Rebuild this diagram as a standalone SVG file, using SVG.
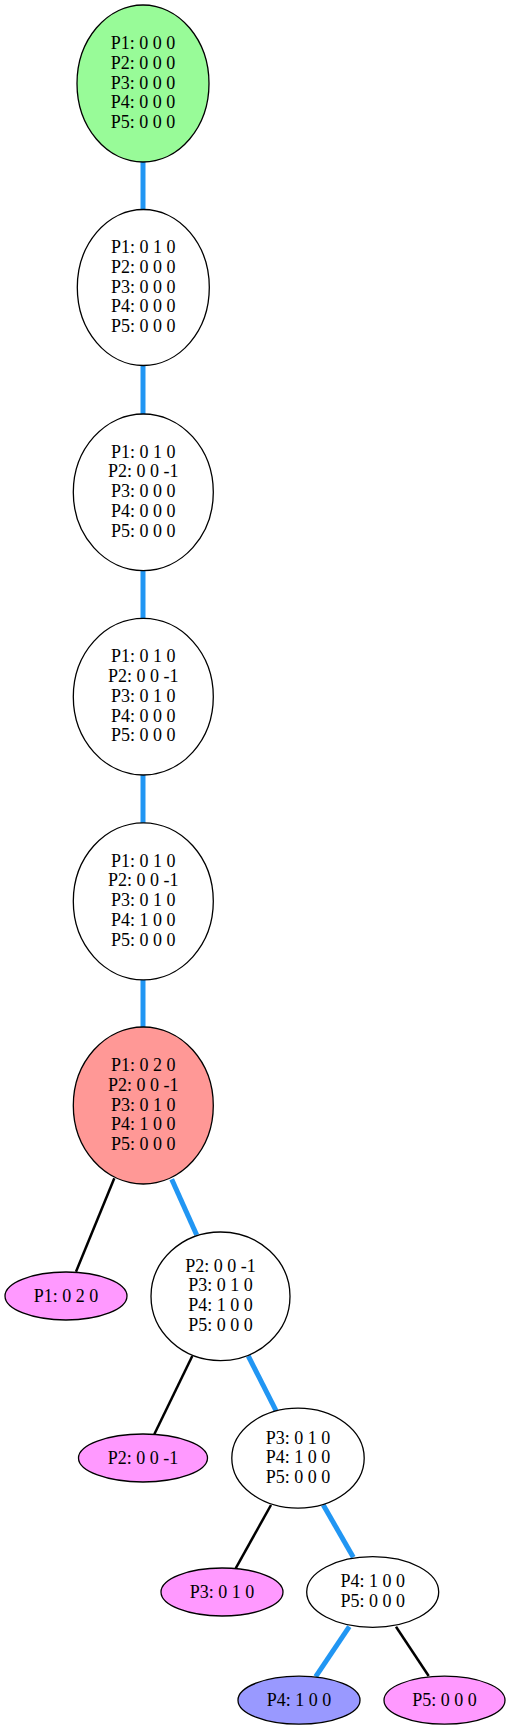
<svg xmlns="http://www.w3.org/2000/svg" width="511" height="1730" viewBox="0 0 511 1730">
<style>
.n{stroke:#000;stroke-width:1.3}
.w{fill:#fff}
.g{fill:#98fb98}
.r{fill:#ff9896}
.m{fill:#ff99ff}
.b{fill:#9999ff}
text{font-family:"Liberation Serif","Times New Roman",serif;font-size:18px;text-anchor:middle;fill:#000}
.e{fill:none;stroke:#000;stroke-width:2.5}
.h{fill:none;stroke:#2196f3;stroke-width:5}
</style>
<rect width="511" height="1730" fill="#fff"/>
<g id="edges">
<line class="h" x1="143" y1="162" x2="143" y2="210"/>
<line class="h" x1="143" y1="366" x2="143" y2="414"/>
<line class="h" x1="143" y1="571" x2="143" y2="618"/>
<line class="h" x1="143" y1="775" x2="143" y2="823"/>
<line class="h" x1="143" y1="980" x2="143" y2="1027"/>
<line class="e" x1="114.3" y1="1178.3" x2="76" y2="1271.7"/>
<line class="h" x1="171.7" y1="1179.3" x2="196.7" y2="1235"/>
<line class="e" x1="192.3" y1="1356" x2="154.3" y2="1434.3"/>
<line class="h" x1="248.3" y1="1356" x2="276" y2="1410.7"/>
<line class="e" x1="271" y1="1505" x2="235.7" y2="1568.3"/>
<line class="h" x1="323.3" y1="1505" x2="353.3" y2="1557.3"/>
<line class="h" x1="349.3" y1="1626.7" x2="315.7" y2="1676.7"/>
<line class="e" x1="396" y1="1626.7" x2="428.7" y2="1676"/>
</g>
<g id="n1">
<ellipse class="n g" cx="143" cy="83.5" rx="66" ry="78.5"/>
<text x="143" y="48.8">P1: 0 0 0</text><text x="143" y="68.6">P2: 0 0 0</text><text x="143" y="88.5">P3: 0 0 0</text><text x="143" y="108.3">P4: 0 0 0</text><text x="143" y="128.2">P5: 0 0 0</text>
</g>
<g id="n2">
<ellipse class="n w" cx="143.3" cy="287.5" rx="66" ry="78"/>
<text x="143.3" y="252.8">P1: 0 1 0</text><text x="143.3" y="272.6">P2: 0 0 0</text><text x="143.3" y="292.5">P3: 0 0 0</text><text x="143.3" y="312.3">P4: 0 0 0</text><text x="143.3" y="332.2">P5: 0 0 0</text>
</g>
<g id="n3">
<ellipse class="n w" cx="143.3" cy="492.3" rx="70" ry="78.3"/>
<text x="143.3" y="457.6">P1: 0 1 0</text><text x="143.3" y="477.4">P2: 0 0 -1</text><text x="143.3" y="497.3">P3: 0 0 0</text><text x="143.3" y="517.1">P4: 0 0 0</text><text x="143.3" y="537">P5: 0 0 0</text>
</g>
<g id="n4">
<ellipse class="n w" cx="143.3" cy="696.7" rx="70" ry="78.3"/>
<text x="143.3" y="662">P1: 0 1 0</text><text x="143.3" y="681.8">P2: 0 0 -1</text><text x="143.3" y="701.7">P3: 0 1 0</text><text x="143.3" y="721.5">P4: 0 0 0</text><text x="143.3" y="741.4">P5: 0 0 0</text>
</g>
<g id="n5">
<ellipse class="n w" cx="143.3" cy="901.3" rx="70" ry="78.5"/>
<text x="143.3" y="866.6">P1: 0 1 0</text><text x="143.3" y="886.4">P2: 0 0 -1</text><text x="143.3" y="906.3">P3: 0 1 0</text><text x="143.3" y="926.1">P4: 1 0 0</text><text x="143.3" y="946">P5: 0 0 0</text>
</g>
<g id="n6">
<ellipse class="n r" cx="143.3" cy="1105.5" rx="70" ry="78.5"/>
<text x="143.3" y="1070.8">P1: 0 2 0</text><text x="143.3" y="1090.6">P2: 0 0 -1</text><text x="143.3" y="1110.5">P3: 0 1 0</text><text x="143.3" y="1130.3">P4: 1 0 0</text><text x="143.3" y="1150.2">P5: 0 0 0</text>
</g>
<g id="n7">
<ellipse class="n m" cx="66" cy="1296" rx="61" ry="24"/>
<text x="66" y="1301.5">P1: 0 2 0</text>
</g>
<g id="n8">
<ellipse class="n w" cx="220.5" cy="1296.3" rx="69.5" ry="64.3"/>
<text x="220.5" y="1271.5">P2: 0 0 -1</text><text x="220.5" y="1291.3">P3: 0 1 0</text><text x="220.5" y="1311.2">P4: 1 0 0</text><text x="220.5" y="1331">P5: 0 0 0</text>
</g>
<g id="n9">
<ellipse class="n m" cx="143" cy="1458" rx="64.5" ry="24"/>
<text x="143" y="1463.5">P2: 0 0 -1</text>
</g>
<g id="n10">
<ellipse class="n w" cx="298" cy="1458.2" rx="66.2" ry="50"/>
<text x="298" y="1443.5">P3: 0 1 0</text><text x="298" y="1463.3">P4: 1 0 0</text><text x="298" y="1483.2">P5: 0 0 0</text>
</g>
<g id="n11">
<ellipse class="n m" cx="222" cy="1592" rx="61" ry="24"/>
<text x="222" y="1597.5">P3: 0 1 0</text>
</g>
<g id="n12">
<ellipse class="n w" cx="372.7" cy="1592" rx="66" ry="35.3"/>
<text x="372.7" y="1587">P4: 1 0 0</text><text x="372.7" y="1606.8">P5: 0 0 0</text>
</g>
<g id="n13">
<ellipse class="n b" cx="299" cy="1700.2" rx="61" ry="24"/>
<text x="299" y="1705.7">P4: 1 0 0</text>
</g>
<g id="n14">
<ellipse class="n m" cx="444.5" cy="1700.2" rx="60.5" ry="24"/>
<text x="444.5" y="1705.7">P5: 0 0 0</text>
</g>
</svg>
